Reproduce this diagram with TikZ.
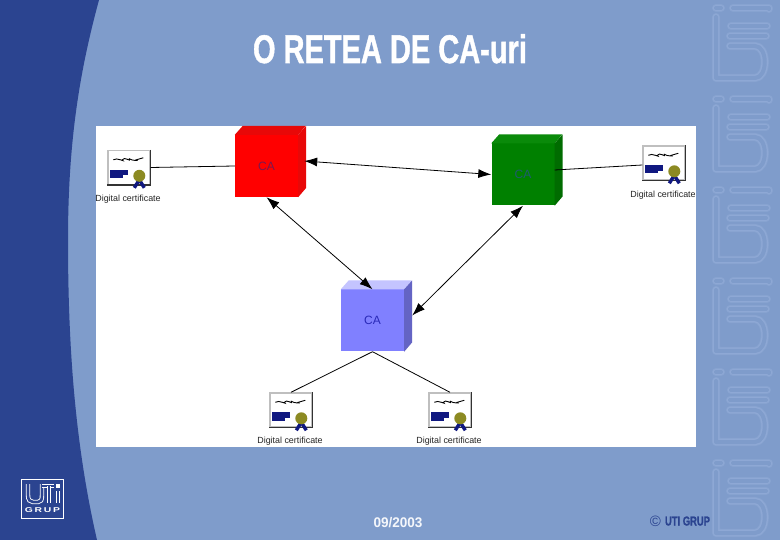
\documentclass[tikz,border=0pt]{standalone}
\usepackage{graphicx}
\usepackage{fontspec}
\setmainfont{Liberation Sans}
\newfontfamily\heavyfont[BoldFeatures={FakeBold=1.3}]{Liberation Sans}
\usetikzlibrary{arrows.meta}
\definecolor{bgblue}{HTML}{7F9CCB}
\definecolor{darkblue}{HTML}{2B4490}
\definecolor{wmsoft}{HTML}{87A3D0}
\definecolor{wmline}{HTML}{8EA8D5}
\definecolor{certnavy}{HTML}{101880}
\definecolor{seal}{HTML}{8C8A22}
\definecolor{cared}{HTML}{7A1850}
\definecolor{cagreen}{HTML}{1F5C70}
\definecolor{cablue}{HTML}{2A2AB8}
\definecolor{blueside}{HTML}{6464C4}
\definecolor{bluetop}{HTML}{C4C4FF}
\definecolor{redface}{HTML}{E80808}
\definecolor{greentop}{HTML}{0A8A0A}
\definecolor{greenside}{HTML}{006C00}
\tikzset{
  x=1pt,y=-1pt,
  conn/.style={draw=black,line width=0.8pt},
  bidir/.style={conn,{Latex[length=13pt,width=9pt]}-{Latex[length=13pt,width=9pt]}},
  cubebox/.style={minimum width=63pt,minimum height=62pt,inner sep=0pt,font=\fontsize{12}{12}\selectfont},
  certbox/.style={minimum width=42pt,minimum height=34pt,inner sep=0pt,fill=white,draw=black!25,line width=1.4pt},
  certlabel/.style={font=\fontsize{8.9}{8.9}\selectfont,text=black!85,inner sep=0pt},
  wmbase/.style={line cap=round,line join=round,double=bgblue},
  wma/.style={wmbase,draw=wmsoft,line width=2.6pt,double distance=3pt},
  wmb/.style={wmbase,draw=wmline,line width=1.3pt,double distance=4pt},
  logoline/.style={draw=white,double=darkblue,line width=.9pt,double distance=2.6pt}
}
% name, centre x, centre y, front, top, side, text colour
\newcommand{\cacube}[7]{%
  \node[cubebox,fill=#4,text=#7] (#1) at (#2,#3) {CA};
  \fill[#5] (#1.north west) -- ++(8,-9) -- ++(63,0) -- (#1.north east) -- cycle;
  \fill[#6] (#1.north east) -- ++(8,-9) -- ++(0,62) -- (#1.south east) -- cycle;
}
% name, centre x, centre y, label x, label y
\newcommand{\certif}[5]{%
  \node[certbox] (#1) at (#2,#3) {};
  \draw[black!80,line width=1.5pt] (#1.north east) -- (#1.south east) -- (#1.south west);
  \draw[black,line width=.9pt] ([shift={(6,10)}]#1.north west) .. controls +(3,-3) and +(4,3) .. ++(9,0) .. controls +(2,-4) and +(2,4) .. ++(7,-1) .. controls +(3,2) and +(3,1) .. ++(7,1) -- ++(7,-2);
  \fill[certnavy] ([shift={(3,20)}]#1.north west) rectangle ++(18,5.6);
  \fill[certnavy] ([shift={(3,25.6)}]#1.north west) rectangle ++(13,2.6);
  \draw[certnavy,line width=3.4pt] ([shift={(32,30)}]#1.north west) -- ++(-5,8);
  \draw[certnavy,line width=3.4pt] ([shift={(32,30)}]#1.north west) -- ++(5,8);
  \fill[seal] ([shift={(32,26)}]#1.north west) circle (6);
  \node[certlabel] (#1label) at (#4,#5) {Digital certificate};
}
\newcommand{\wmpaths}[1]{%
    \draw[#1] (733,8) -- (769,8) -- (769,9);
    \draw[#1] (716,8) -- (721,8);
    \draw[#1] (731,26) -- (767,26);
    \draw[#1] (716,17) -- (716,78) -- (755,78) .. controls (768,78) and (768,46) .. (755,46) -- (730,46);
    \draw[#1] (730,36) -- (766,36);
}
\newcommand{\wmunit}[1]{%
  \begin{scope}[shift={(0,#1)}]
    \wmpaths{wma}
    \wmpaths{wmb}
  \end{scope}
}
\begin{document}
\begin{tikzpicture}
\useasboundingbox (0,0) rectangle (780,540);
\fill[bgblue] (0,0) rectangle (780,540);
\fill[darkblue] (0,0) -- (99,0) .. controls (80,70) and (68,140) .. (68,240) .. controls (68,340) and (74,440) .. (97,540) -- (0,540) -- cycle;
% watermark
\begin{scope}
\clip (708,0) rectangle (780,540);
\foreach \off in {0,91,182,273,364,455} {\wmunit{\off}}
\end{scope}
% white panel
\fill[white] (96,126) rectangle (696,447);
% title and footer
\node[text=white,anchor=base,inner sep=0pt] (title) at (390,63) {\resizebox{274pt}{\height}{\fontsize{40}{40}\selectfont\heavyfont\bfseries O RETEA DE CA-uri}};
\node[text=white!92!bgblue,anchor=base,inner sep=0pt] (date) at (398,527) {\resizebox{49pt}{\height}{\fontsize{14}{14}\selectfont\bfseries 09/2003}};
\node[text=darkblue,anchor=base,inner sep=0pt] (copysym) at (655.5,526) {\fontsize{15}{15}\selectfont ©};
\node[text=darkblue,anchor=base,inner sep=0pt] (copy) at (687.5,525.5) {\resizebox{45pt}{\height}{\fontsize{13}{13}\selectfont\heavyfont\bfseries UTI GRUP}};
% logo
\node[draw=white,line width=1pt,minimum width=42pt,minimum height=39pt,inner sep=0pt] (logo) at (42.5,498.5) {};
\draw[logoline] (28,484) -- (28,495) .. controls (28,500) and (30,502) .. (33,502) -- (38,502) .. controls (41,502) and (42,500) .. (42,495) -- (42,484);
\draw[logoline] (42,486) -- (54,486);
\draw[logoline] (49,486) -- (49,503);
\draw[logoline] (58,491) -- (58,503);
\fill[white] (56,484) rectangle (60,488);
\node[text=white,inner sep=0pt] (logotext) at (42.5,510.5) {\resizebox{35pt}{\height}{\fontsize{7}{7}\selectfont\bfseries G\,R\,U\,P}};
% cubes
\cacube{red}{266.5}{166}{red}{redface}{redface}{cared}
\cacube{green}{523}{174.5}{green!50!black}{greentop}{greenside}{cagreen}
\cacube{blue}{372.5}{320.5}{blue!50}{bluetop}{blueside}{cablue}
% certificates
\certif{certa}{129}{167.5}{128}{199}
\certif{certb}{664}{163}{663}{195}
\certif{certc}{291}{410}{290}{441.5}
\certif{certd}{450}{410}{449}{441.5}
% connectors
\draw[conn] (certa.east) -- (red.west);
\draw[conn] ([shift={(0,-4.5)}]green.east) -- ([shift={(0,2)}]certb.west);
\draw[bidir] ([shift={(6,-5)}]red.east) -- (green.west);
\draw[bidir] (red.south) -- (blue.north);
\draw[bidir] (green.south) -- ([shift={(8,-5)}]blue.east);
\draw[conn] (blue.south) -- (certc.north);
\draw[conn] (blue.south) -- (certd.north);
\end{tikzpicture}
\end{document}
